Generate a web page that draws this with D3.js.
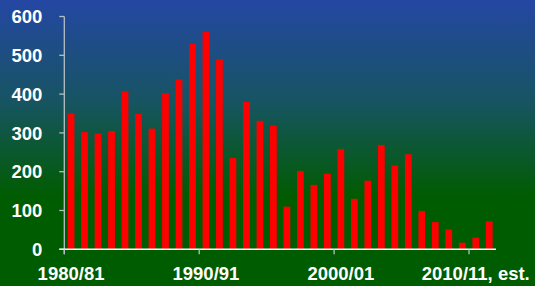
<!DOCTYPE html>
<html>
<head>
<meta charset="utf-8">
<script src="https://cdn.jsdelivr.net/npm/d3@7"></script>
<style>
  body { margin: 0; background: #005c00; }
  text { font-family: "Liberation Sans", Arial, sans-serif; font-weight: bold; fill: #fff; }
</style>
</head>
<body>
<div class="graphic"></div>
<script>
// seasons 1980/81 .. 2011/12
var seasons = ["1980/81","1981/82","1982/83","1983/84","1984/85","1985/86","1986/87","1987/88",
  "1988/89","1989/90","1990/91","1991/92","1992/93","1993/94","1994/95","1995/96",
  "1996/97","1997/98","1998/99","1999/00","2000/01","2001/02","2002/03","2003/04",
  "2004/05","2005/06","2006/07","2007/08","2008/09","2009/10","2010/11","2011/12"];
var values = [350, 302, 298, 305, 407, 349, 311, 402,
  438, 530, 560, 490, 235, 380, 331, 319,
  110, 202, 166, 195, 258, 130, 177, 269,
  216, 245, 99, 70, 51, 17, 30, 72];
var labelSeasons = ["1980/81", "1990/91", "2000/01", "2010/11"];
var labelTexts = ["1980/81", "1990/91", "2000/01", "2010/11, est."];
var yTicks = [0, 100, 200, 300, 400, 500, 600];

var W = 535, H = 286;
var margin = {top: 16.5, left: 64.3, right: 39, bottom: 36.7};
var width = W - margin.left - margin.right,
    height = H - margin.top - margin.bottom;

var svg = d3.select(".graphic").append("svg")
  .attr("width", W).attr("height", H);

var grad = svg.append("defs").append("linearGradient")
  .attr("id", "bg").attr("x1", 0).attr("y1", 0).attr("x2", 0).attr("y2", 1);
grad.append("stop").attr("offset", "0%").attr("stop-color", "#2447a3");
grad.append("stop").attr("offset", "35%").attr("stop-color", "#175463");
grad.append("stop").attr("offset", "69%").attr("stop-color", "#005c00");
grad.append("stop").attr("offset", "100%").attr("stop-color", "#005c00");
svg.append("rect").attr("width", W).attr("height", H).attr("fill", "url(#bg)");

var g = svg.append("g").attr("transform", "translate(" + margin.left + "," + margin.top + ")");

var x = d3.scaleBand().domain(seasons).range([0, width]).paddingInner(0.5).paddingOuter(0.25);
var y = d3.scaleLinear().domain([0, 600]).range([height, 0]);
var step = x.step();

// y axis
g.append("line").attr("x1", 0).attr("x2", 0).attr("y1", y(600)).attr("y2", height + 5)
  .attr("stroke", "#b4c0c4").attr("stroke-width", 1.3);
g.selectAll(".ytick").data(yTicks).enter().append("line")
  .attr("x1", -5).attr("x2", 0).attr("y1", d => y(d)).attr("y2", d => y(d))
  .attr("stroke", "#b4c0c4").attr("stroke-width", 1.3);
g.selectAll(".ylab").data(yTicks).enter().append("text")
  .attr("x", -22).attr("y", d => y(d)).attr("dy", "0.36em")
  .attr("text-anchor", "end").style("font-size", "18.5px").text(d => d);

// bars
g.selectAll(".bar").data(values).enter().append("rect")
  .attr("x", (d, i) => x(seasons[i])).attr("width", x.bandwidth())
  .attr("y", d => y(d)).attr("height", d => height - y(d))
  .attr("fill", "#ff0000");

// x axis
g.append("line").attr("x1", -5).attr("x2", width).attr("y1", height).attr("y2", height)
  .attr("stroke", "#fff").attr("stroke-width", 1.5);
g.selectAll(".xtick").data(labelSeasons).enter().append("line")
  .attr("x1", d => x(d) - step * 0.25).attr("x2", d => x(d) - step * 0.25)
  .attr("y1", height).attr("y2", height + 5)
  .attr("stroke", "#b4c0c4").attr("stroke-width", 1.3);
g.selectAll(".xlab").data(labelSeasons).enter().append("text")
  .attr("x", d => x(d) + x.bandwidth() / 2).attr("y", height + 31)
  .attr("text-anchor", "middle").style("font-size", "18.5px")
  .text((d, i) => labelTexts[i]);
</script>
</body>
</html>
